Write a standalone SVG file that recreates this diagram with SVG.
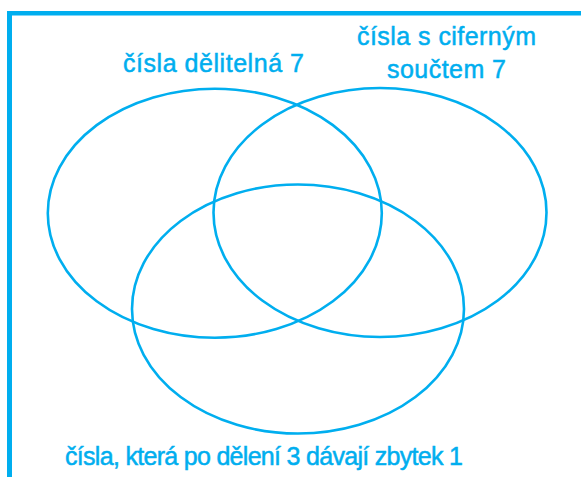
<svg xmlns="http://www.w3.org/2000/svg" width="581" height="477" viewBox="0 0 581 477">
<style>
.frame{fill:#00AEEF}
.set{fill:none;stroke:#00AEEF;stroke-width:2.6}
.lbl{font-family:"Liberation Sans",Arial,sans-serif;font-size:25px;fill:#00AEEF;stroke:#00AEEF;stroke-width:0.5;text-anchor:middle}
</style>
<rect width="581" height="477" fill="#ffffff"/>
<g id="frame">
<rect class="frame" x="7" y="11" width="574" height="4.5"/>
<rect class="frame" x="7" y="11" width="5" height="466"/>
</g>
<g id="set-divisible-7">
<ellipse class="set" cx="214.8" cy="213.2" rx="167" ry="124.5"/>
<text class="lbl" x="213.5" y="72" textLength="181">čísla dělitelná 7</text>
</g>
<g id="set-digit-sum-7">
<ellipse class="set" cx="380" cy="212.5" rx="166.5" ry="124.5"/>
<text class="lbl" x="446.5" y="45" textLength="179">čísla s ciferným</text>
<text class="lbl" x="446.5" y="78" textLength="119">součtem 7</text>
</g>
<g id="set-remainder-1">
<ellipse class="set" cx="298" cy="309" rx="166" ry="124.5"/>
<text class="lbl" x="264" y="465" textLength="398">čísla, která po dělení 3 dávají zbytek 1</text>
</g>
<g id="connectors"></g>
</svg>
